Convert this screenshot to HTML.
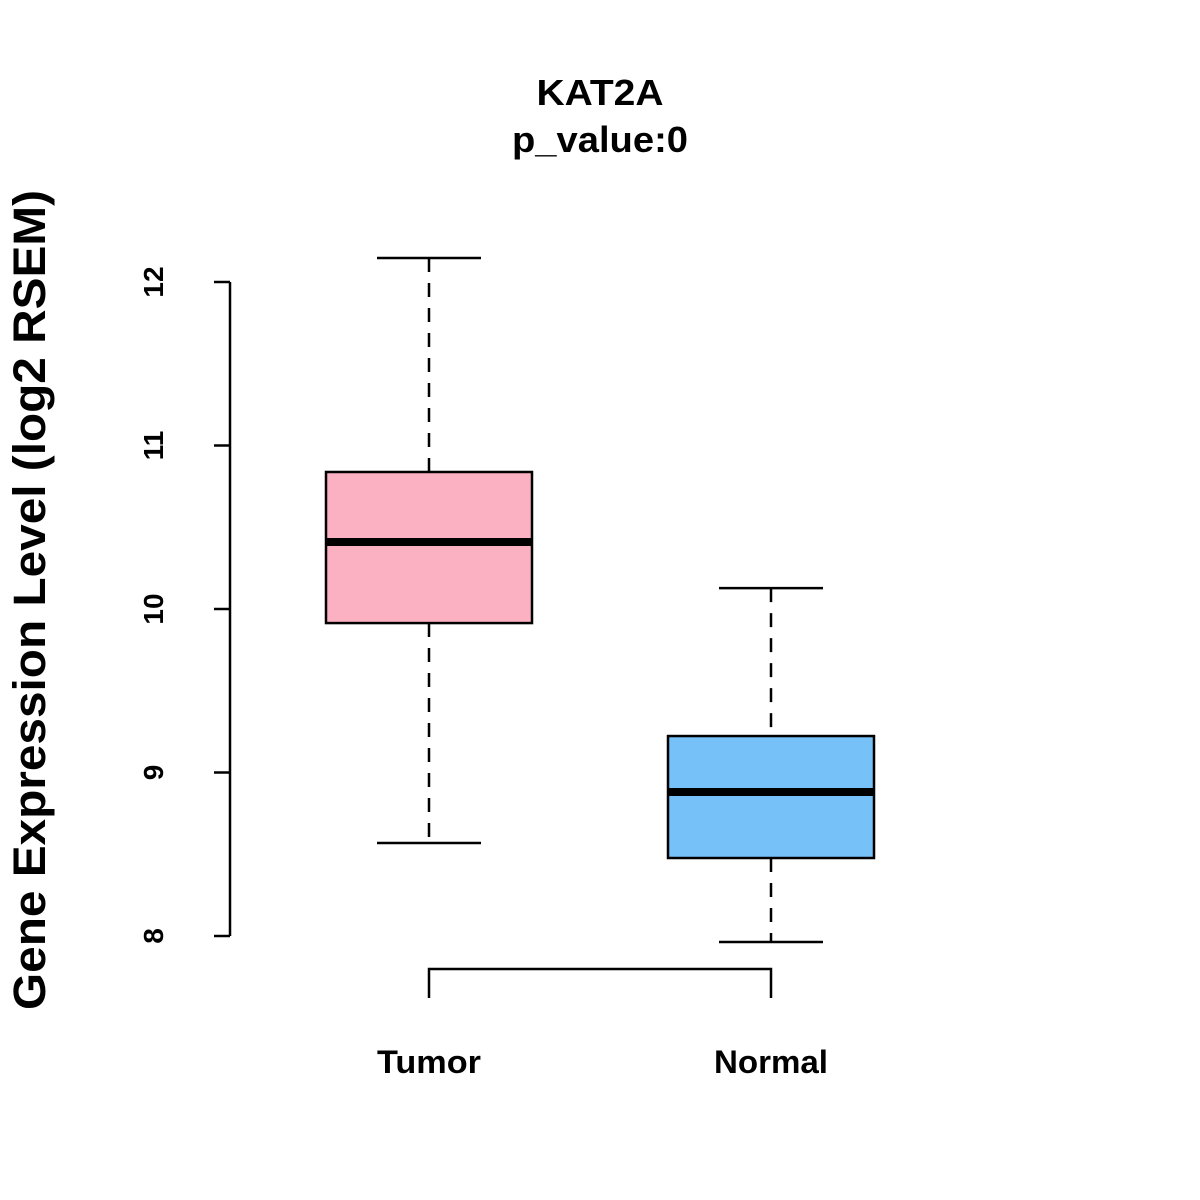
<!DOCTYPE html>
<html><head><meta charset="utf-8"><style>
html,body{margin:0;padding:0;background:#fff;}
svg{display:block;font-family:"Liberation Sans",Arial,sans-serif;}
</style></head><body>
<svg id="chart" width="1200" height="1200" viewBox="0 0 1200 1200">
<text x="600" y="105" text-anchor="middle" font-size="36" font-weight="bold" textLength="127" lengthAdjust="spacingAndGlyphs">KAT2A</text>
<text x="600" y="152" text-anchor="middle" font-size="36" font-weight="bold" textLength="176" lengthAdjust="spacingAndGlyphs">p_value:0</text>
<text transform="translate(45,600) rotate(-90)" text-anchor="middle" font-size="45" font-weight="bold" textLength="820" lengthAdjust="spacingAndGlyphs">Gene Expression Level (log2 RSEM)</text>
<g id="yaxis"></g>
<g id="boxes"></g>
</svg>
<script>
const categories = ["Tumor", "Normal"];
const whiskerLow = [8.569, 7.963];
const q1 = [9.914, 8.477];
const median = [10.41, 8.881];
const q3 = [10.838, 9.223];
const whiskerHigh = [12.147, 10.128];
const colors = ["#FBB1C2", "#77C1F9"];
const yTicks = [8, 9, 10, 11, 12];
const labelWidths = [104, 114];

const NS = "http://www.w3.org/2000/svg";
function y(v){ return 936 - (v - 8) * 163.5; }
function x(i){ return 429 + i * 342; }
function mk(tag, attrs, parent){
  const e = document.createElementNS(NS, tag);
  for (const k in attrs) e.setAttribute(k, attrs[k]);
  parent.appendChild(e);
  return e;
}
const ax = document.getElementById("yaxis");
mk("line", {x1:230, x2:230, y1:y(yTicks[yTicks.length-1]), y2:y(yTicks[0]), stroke:"#000", "stroke-width":2.5}, ax);
yTicks.forEach(t => {
  const tk = mk("line", {x1:214, x2:230, y1:y(t), y2:y(t), stroke:"#000", "stroke-width":2.5}, ax);
  
  
  const lb = mk("text", {transform:`translate(163,${y(t)}) rotate(-90)`, "text-anchor":"middle", "font-size":28, "font-weight":"bold"}, ax);
  lb.textContent = t;
  
  
});
const bx = document.getElementById("boxes");
categories.forEach((c, i) => {
  const cx = x(i);
  const g = mk("g", {}, bx);
  
  
  const s = {stroke:"#000", "stroke-width":2.5};
  mk("line", Object.assign({x1:cx, x2:cx, y1:y(whiskerHigh[i]), y2:y(q3[i]), "stroke-dasharray":"14,11"}, s), g);
  mk("line", Object.assign({x1:cx, x2:cx, y1:y(q1[i]), y2:y(whiskerLow[i]), "stroke-dasharray":"14,11"}, s), g);
  mk("line", Object.assign({x1:cx-52, x2:cx+52, y1:y(whiskerHigh[i]), y2:y(whiskerHigh[i])}, s), g);
  mk("line", Object.assign({x1:cx-52, x2:cx+52, y1:y(whiskerLow[i]), y2:y(whiskerLow[i])}, s), g);
  mk("rect", Object.assign({x:cx-103, width:206, y:y(q3[i]), height:y(q1[i])-y(q3[i]), fill:colors[i]}, s), g);
  mk("line", {x1:cx-103, x2:cx+103, y1:y(median[i]), y2:y(median[i]), stroke:"#000", "stroke-width":8}, g);
  const lb = mk("text", {x:cx, y:1073, "text-anchor":"middle", "font-size":32, "font-weight":"bold", textLength:labelWidths[i], lengthAdjust:"spacingAndGlyphs"}, bx);
  lb.textContent = c;
  
  
});
const br = mk("polyline", {points:`${x(0)},998 ${x(0)},969 ${x(1)},969 ${x(1)},998`, fill:"none", stroke:"#000", "stroke-width":2.5}, bx);


</script>
</body></html>
